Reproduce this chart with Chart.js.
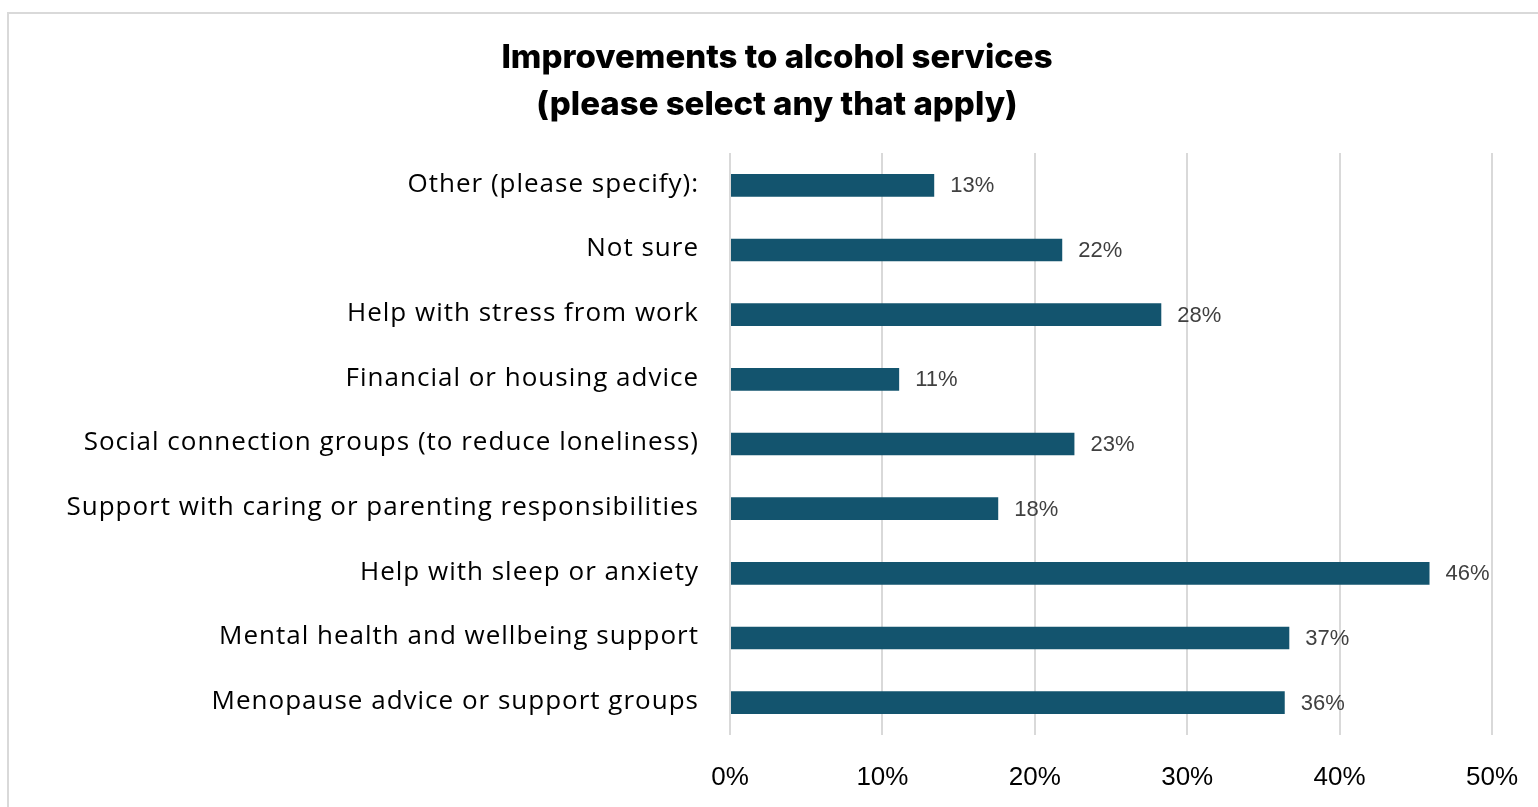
<!DOCTYPE html>
<html>
<head>
<meta charset="utf-8">
<title>Improvements to alcohol services</title>
<script src="https://cdn.jsdelivr.net/npm/chart.js@4/dist/chart.umd.min.js"></script>
<style>
    html, body { margin: 0; padding: 0; background: #fff; overflow: hidden; }
    #frame {
        position: absolute; left: 7px; top: 12px;
        width: 1600px; height: 900px;
        border: 2px solid #d9d9d9;
    }
    #wrap { position: absolute; left: 0; top: 0; width: 1538px; height: 807px; }
</style>
</head>
<body>
<div id="frame"></div>
<div id="wrap"><canvas id="servicesChart"></canvas></div>
<script>
    const titleLines = ['Improvements to alcohol services', '(please select any that apply)'];
    const categories = [
        'Other (please specify):',
        'Not sure',
        'Help with stress from work',
        'Financial or housing advice',
        'Social connection groups (to reduce loneliness)',
        'Support with caring or parenting responsibilities',
        'Help with sleep or anxiety',
        'Mental health and wellbeing support',
        'Menopause advice or support groups'
    ];
    const percentages = [13.4, 21.8, 28.3, 11.1, 22.6, 17.6, 45.9, 36.7, 36.4];
    const xTicks = [0, 10, 20, 30, 40, 50];

    // Two-line heading, centred over the card
    const heading = {
        id: 'heading',
        afterDraw(chart) {
            const ctx = chart.ctx;
            ctx.save();
            ctx.font = '800 33px "Inter", sans-serif';
            ctx.fillStyle = '#000';
            ctx.textAlign = 'center';
            ctx.textBaseline = 'middle';
            ctx.fillText(titleLines[0], 777, 58);
            ctx.fillText(titleLines[1], 777, 105);
            ctx.restore();
        }
    };

    // Category names, right aligned against the plot
    const categoryLabels = {
        id: 'categoryLabels',
        afterDraw(chart) {
            const ctx = chart.ctx;
            const y = chart.scales.y;
            ctx.save();
            ctx.font = '26px "Open Sans", sans-serif';
            ctx.letterSpacing = '1px';
            ctx.fillStyle = '#000';
            ctx.textAlign = 'right';
            ctx.textBaseline = 'middle';
            categories.forEach((name, i) => {
                ctx.fillText(name, chart.chartArea.left - 31, y.getPixelForTick(i) - 1);
            });
            ctx.restore();
        }
    };

    // Value labels to the right of each bar
    const barValues = {
        id: 'barValues',
        afterDatasetsDraw(chart) {
            const ctx = chart.ctx;
            ctx.save();
            ctx.font = '22px "Liberation Sans", Arial, sans-serif';
            ctx.fillStyle = '#404040';
            ctx.textAlign = 'left';
            ctx.textBaseline = 'middle';
            chart.getDatasetMeta(0).data.forEach((bar, i) => {
                ctx.fillText(Math.round(percentages[i]) + '%', bar.x + 16, bar.y + 1);
            });
            ctx.restore();
        }
    };

    const ctx = document.getElementById('servicesChart').getContext('2d');
    new Chart(ctx, {
        type: 'bar',
        data: {
            labels: categories,
            datasets: [{
                data: percentages,
                backgroundColor: '#13546e',
                barPercentage: 0.35,
                categoryPercentage: 1
            }]
        },
        options: {
            indexAxis: 'y',
            responsive: true,
            maintainAspectRatio: false,
            animation: false,
            layout: { padding: { left: 10, right: 46, top: 153, bottom: 0 } },
            plugins: {
                legend: { display: false },
                tooltip: { enabled: false },
                title: { display: false }
            },
            scales: {
                x: {
                    min: 0,
                    max: 50,
                    afterBuildTicks(scale) {
                        scale.ticks = xTicks.map(v => ({ value: v }));
                    },
                    afterFit(scale) {
                        scale.height = 72;
                        scale.paddingLeft = 0;
                        scale.paddingRight = 0;
                    },
                    ticks: {
                        padding: 27,
                        color: '#000',
                        font: { family: '"Liberation Sans", Arial, sans-serif', size: 26 },
                        callback: v => v + '%'
                    },
                    grid: { color: '#d9d9d9', lineWidth: 2, drawTicks: false },
                    border: { display: false }
                },
                y: {
                    afterFit(scale) { scale.width = 720; },
                    ticks: { display: false },
                    grid: { display: false },
                    border: { display: false }
                }
            }
        },
        plugins: [barValues, categoryLabels, heading]
    });
</script>
</body>
</html>
